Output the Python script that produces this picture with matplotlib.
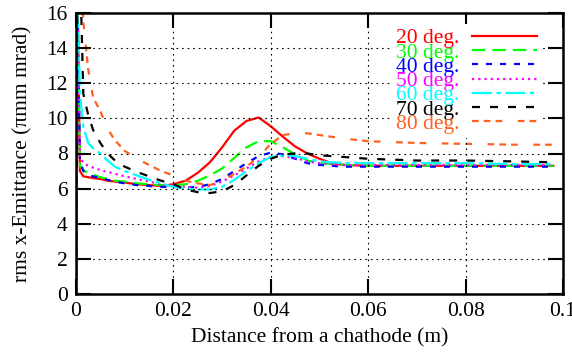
import matplotlib
matplotlib.use("Agg")
import matplotlib.pyplot as plt

# distance from cathode (m)
x = [0.0, 0.0003, 0.0008, 0.0015, 0.0025, 0.0035, 0.005, 0.0065, 0.008, 0.010,
     0.0125, 0.015, 0.0175, 0.020, 0.0225, 0.025, 0.0275, 0.030, 0.0325, 0.035,
     0.0375, 0.040, 0.0425, 0.045, 0.0475, 0.050, 0.0525, 0.055, 0.060, 0.065,
     0.070, 0.080, 0.090, 0.098]

deg20 = [0, 17, 7.0, 6.7, 6.65, 6.6, 6.55, 6.45, 6.4, 6.35,
         6.25, 6.2, 6.15, 6.25, 6.45, 6.9, 7.5, 8.35, 9.3, 9.85,
         10.05, 9.55, 8.95, 8.4, 8.0, 7.7, 7.45, 7.35, 7.3, 7.3,
         7.3, 7.3, 7.3, 7.3]
deg30 = [0, 17, 7.3, 7.05, 6.9, 6.8, 6.65, 6.55, 6.45, 6.4,
         6.3, 6.25, 6.2, 6.2, 6.25, 6.45, 6.75, 7.15, 7.75, 8.35,
         8.7, 8.7, 8.35, 7.95, 7.6, 7.45, 7.4, 7.35, 7.3, 7.3,
         7.3, 7.3, 7.3, 7.3]
deg40 = [0, 17, 7.6, 7.0, 6.8, 6.7, 6.6, 6.5, 6.4, 6.3,
         6.2, 6.15, 6.1, 6.1, 6.05, 6.1, 6.25, 6.55, 7.0, 7.45,
         7.85, 8.05, 7.95, 7.7, 7.45, 7.35, 7.3, 7.25, 7.25, 7.25,
         7.25, 7.25, 7.25, 7.25]
deg50 = [0, 17, 7.8, 7.45, 7.3, 7.2, 7.05, 6.95, 6.85, 6.7,
         6.55, 6.4, 6.25, 6.15, 6.1, 6.05, 6.15, 6.4, 6.75, 7.15,
         7.55, 7.8, 7.85, 7.75, 7.55, 7.45, 7.4, 7.35, 7.35, 7.35,
         7.35, 7.35, 7.35, 7.35]
deg60 = [0, 17, 11.5, 9.5, 8.6, 8.3, 8.0, 7.6, 7.25, 7.0,
         6.75, 6.5, 6.3, 6.1, 6.0, 5.95, 5.95, 6.1, 6.5, 7.0,
         7.45, 7.8, 7.9, 7.85, 7.7, 7.55, 7.5, 7.45, 7.45, 7.45,
         7.45, 7.45, 7.4, 7.4]
deg70 = [0, 20, 19, 11.4, 10.2, 9.35, 8.6, 8.0, 7.6, 7.25,
         6.95, 6.7, 6.45, 6.25, 5.95, 5.8, 5.75, 5.85, 6.2, 6.75,
         7.3, 7.7, 7.95, 8.0, 8.0, 7.9, 7.85, 7.8, 7.7, 7.65,
         7.6, 7.6, 7.55, 7.5]
deg80 = [0, 20, 20, 15.5, 12.8, 11.2, 10.4, 9.4, 8.75, 8.15,
         7.7, 7.35, 7.0, 6.75, 6.45, 6.3, 6.2, 6.45, 6.85, 7.25,
         7.8, 8.55, 9.05, 9.15, 9.15, 9.05, 8.95, 8.85, 8.7, 8.65,
         8.6, 8.55, 8.5, 8.5]

labels = ["20 deg.", "30 deg.", "40 deg.", "50 deg.", "60 deg.", "70 deg.", "80 deg."]
series = [deg20, deg30, deg40, deg50, deg60, deg70, deg80]
colors = ["#ff0000", "#00ff00", "#0000ff", "#ff00ff", "#00ffff", "#000000", "#ff6020"]
styles = ["-", (0, (6, 3.2)), (0, (2.7, 3.6)), (0, (1, 1.8)), (0, (9, 2, 2, 2)),
          (0, (3.6, 4.5)), (0, (3, 2.3, 3, 2.3, 3, 7))]

xticks = [0, 0.02, 0.04, 0.06, 0.08, 0.1]
xticklabels = ["0", "0.02", "0.04", "0.06", "0.08", "0.1"]
yticks = [0, 2, 4, 6, 8, 10, 12, 14, 16]

plt.rcParams["font.family"] = ["Liberation Serif", "DejaVu Serif"]
plt.rcParams["font.size"] = 15.5

fig = plt.figure(figsize=(5.72, 3.6), dpi=100)
ax = fig.add_axes([76 / 572, 1 - 294 / 360, (563 - 76) / 572, (294 - 13) / 360])

for ys, lab, c, ls in zip(series, labels, colors, styles):
    ax.plot(x, ys, color=c, linestyle=ls, linewidth=1.6, label=lab,
            solid_joinstyle="round", dash_joinstyle="round")

ax.set_xlim(0, 0.1)
ax.set_ylim(0, 16)
ax.set_xticks(xticks)
ax.set_xticklabels(xticklabels)
ax.set_yticks(yticks)
ax.tick_params(direction="in", length=11, width=1.5, top=True, right=True, pad=6)
for s in ax.spines.values():
    s.set_linewidth(1.8)
ax.grid(True, color="black", linestyle=(0, (1.5, 3.5)), linewidth=0.8)
ax.set_axisbelow(False)

ax.set_xlabel("Distance from a chathode (m)", labelpad=5)
ax.set_ylabel("rms x-Emittance (\u03c0mm mrad)", labelpad=10)

leg = ax.legend(loc="upper right", bbox_to_anchor=(0.977, 0.999), markerfirst=False,
                labelcolor="linecolor", handlelength=3.0, handletextpad=0.6,
                labelspacing=-0.27, borderpad=0.2, frameon=True, fancybox=False,
                framealpha=1.0, facecolor="white", edgecolor="none")
leg.get_frame().set_linewidth(0)

fig.savefig("out.png", dpi=100)
